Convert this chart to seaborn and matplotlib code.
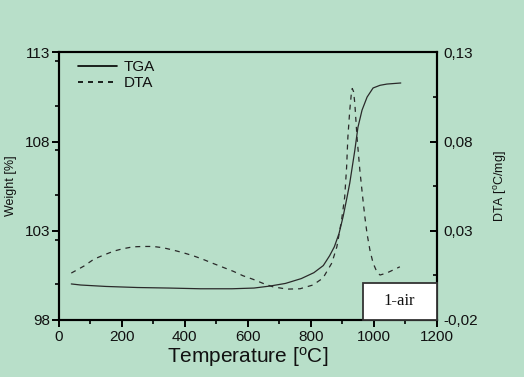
import numpy as np
import pandas as pd
import matplotlib
matplotlib.use("Agg")
import matplotlib.pyplot as plt
from matplotlib.patches import Rectangle
from matplotlib.lines import Line2D
from matplotlib.ticker import FixedLocator, FixedFormatter, MultipleLocator
import seaborn as sns

# ---- data ----
tga_temp = [40, 70, 150, 250, 350, 450, 550, 620, 670, 720, 770, 810, 840, 860, 875,
            890, 903, 915, 924, 933, 940, 950, 963, 979, 998, 1020, 1042, 1086]
tga_weight = [100.02, 99.96, 99.88, 99.82, 99.79, 99.75, 99.75, 99.79, 99.90, 100.05,
              100.32, 100.65, 101.05, 101.6, 102.1, 102.85, 103.8, 104.85, 105.67,
              106.7, 107.5, 108.8, 109.76, 110.49, 111.0, 111.15, 111.22, 111.28]

dta_temp = [40, 80, 112, 143, 175, 203, 236, 268, 300, 331, 363, 395, 427, 458, 490,
            522, 554, 585, 617, 649, 680, 725, 766, 807, 839, 867, 883, 898, 908, 914,
            918, 924, 930, 932, 936, 940, 947, 956, 965, 972, 979, 988, 998, 1010,
            1020, 1041, 1083]
dta_value = [0.0063, 0.0102, 0.0141, 0.0164, 0.0186, 0.0199, 0.0210, 0.0212, 0.0212,
             0.0205, 0.0192, 0.0177, 0.0160, 0.0140, 0.0117, 0.0095, 0.0073, 0.0048,
             0.0028, 0.0005, -0.0014, -0.0027, -0.0025, -0.0004, 0.0035, 0.0119,
             0.021, 0.036, 0.049, 0.0656, 0.0824, 0.0975, 0.1087, 0.1097, 0.108,
             0.1015, 0.0824, 0.064, 0.0488, 0.0377, 0.0282, 0.0192, 0.0119, 0.0070,
             0.0052, 0.0063, 0.0098]

x_ticks = [0, 200, 400, 600, 800, 1000, 1200]
left_ticks = [98, 103, 108, 113]
right_ticks = [-0.02, 0.03, 0.08, 0.13]
right_tick_labels = ["-0,02", "0,03", "0,08", "0,13"]
series_names = ["TGA", "DTA"]
sample_label = "1-air"

# ---- style ----
bg = "#b8dfc9"
ink = "#111111"
sns.set_theme(style="white")
plt.rcParams["font.family"] = ["Liberation Sans", "DejaVu Sans"]
plt.rcParams["mathtext.fontset"] = "custom"
plt.rcParams["mathtext.rm"] = "Liberation Sans"
plt.rcParams["mathtext.it"] = "Liberation Sans:italic"
plt.rcParams["text.color"] = ink
plt.rcParams["axes.labelcolor"] = ink
plt.rcParams["xtick.color"] = ink
plt.rcParams["ytick.color"] = ink

fig = plt.figure(figsize=(5.24, 3.77), dpi=100, facecolor=bg)
ax = fig.add_axes([0.112, 0.1512, 0.7214, 0.7101])
ax.set_facecolor(bg)
ax2 = ax.twinx()

tga_df = pd.DataFrame({"T": tga_temp, "W": tga_weight})
dta_df = pd.DataFrame({"T": dta_temp, "D": dta_value})

sns.lineplot(data=tga_df, x="T", y="W", ax=ax, sort=False, color="#2a2a2a",
             linewidth=0.9, estimator=None)
sns.lineplot(data=dta_df, x="T", y="D", ax=ax2, sort=False, color="#2a2a2a",
             linewidth=0.9, estimator=None, linestyle=(0, (4, 4)))

ax.set_xlim(0, 1200)
ax.set_ylim(98, 113)
ax2.set_ylim(-0.02, 0.13)

ax.xaxis.set_major_locator(FixedLocator(x_ticks))
ax.xaxis.set_minor_locator(MultipleLocator(100))
ax.yaxis.set_major_locator(FixedLocator(left_ticks))
ax.yaxis.set_minor_locator(MultipleLocator(2.5))
ax2.yaxis.set_major_locator(FixedLocator(right_ticks))
ax2.yaxis.set_major_formatter(FixedFormatter(right_tick_labels))
ax2.yaxis.set_minor_locator(FixedLocator([0.005, 0.055, 0.105]))

for a in (ax, ax2):
    for s in a.spines.values():
        s.set_linewidth(1.5)
        s.set_color("black")

ax.tick_params(axis="x", which="major", direction="out", length=5, width=1.4,
               labelsize=11, pad=2, bottom=True, top=False, color="black")
ax.tick_params(axis="x", which="minor", direction="out", length=3, width=1.2,
               bottom=True, top=False, color="black")
ax.tick_params(axis="y", which="major", direction="out", length=5, width=1.4,
               labelsize=11, pad=1, left=True, right=False, color="black")
ax.tick_params(axis="y", which="minor", direction="out", length=3, width=1.2,
               left=True, right=False, color="black")
ax2.tick_params(axis="y", which="major", direction="in", length=5, width=1.4,
                labelsize=11, pad=5, right=True, left=False, color="black")
ax2.tick_params(axis="y", which="minor", direction="in", length=3, width=1.2,
                right=True, left=False, color="black")

ax.set_xlabel("Temperature [$^{\\mathrm{o}}$C]", fontsize=15, labelpad=1)
ax.set_ylabel("Weight [%]", fontsize=9, labelpad=6)
ax2.set_ylabel("DTA [$^{\\mathrm{o}}$C/mg]", fontsize=9, labelpad=10)

handles = [Line2D([], [], color="black", linewidth=1.2),
           Line2D([], [], color="black", linewidth=1.2, linestyle=(0, (3, 3)))]
ax2.legend(handles, series_names, loc="upper left", frameon=False, fontsize=11,
           handlelength=2.6, handletextpad=0.4, labelspacing=0.15,
           borderaxespad=0.1, bbox_to_anchor=(0.03, 1.0))

rect = Rectangle((965, -0.02), 235, 0.021, transform=ax2.transData,
                 facecolor="white", edgecolor="#333333", linewidth=1.3, zorder=5,
                 clip_on=False)
ax2.add_patch(rect)
ax2.text(1082, -0.0093, sample_label, ha="center", va="center",
         fontsize=12, family=["Liberation Serif", "DejaVu Serif"], zorder=6)

fig.savefig("out.png", dpi=100, facecolor=bg)
